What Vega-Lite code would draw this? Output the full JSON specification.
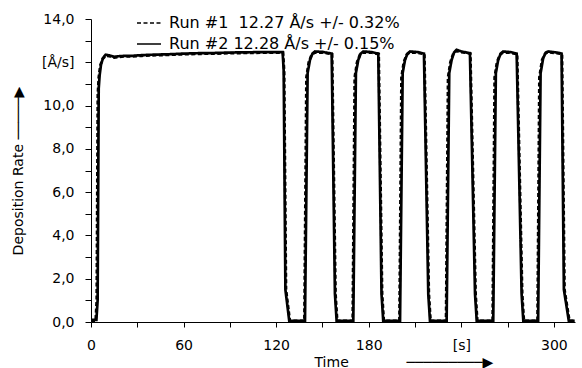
{
  "$schema": "https://vega.github.io/schema/vega-lite/v6.json",
  "width": 484,
  "height": 303,
  "autosize": "none",
  "padding": {"left": 91, "top": 19, "right": 7, "bottom": 46},
  "background": "white",
  "config": {
    "view": {"stroke": null},
    "font": "DejaVu Sans",
    "axis": {
      "grid": false,
      "domainColor": "black",
      "domainWidth": 1,
      "tickColor": "black",
      "tickWidth": 1,
      "labelColor": "black",
      "titleColor": "black",
      "labelFont": "DejaVu Sans",
      "titleFont": "DejaVu Sans",
      "labelFontSize": 14,
      "titleFontSize": 14,
      "titleFontWeight": "normal",
      "labelOverlap": false
    }
  },
  "data": {
    "values": [
      {"s": "Run #1", "t": 0, "v": 0.05},
      {"s": "Run #1", "t": 3.0, "v": 0.05},
      {"s": "Run #1", "t": 3.7, "v": 1.0},
      {"s": "Run #1", "t": 4.4, "v": 10.5},
      {"s": "Run #1", "t": 5.0, "v": 11.3},
      {"s": "Run #1", "t": 6.0, "v": 11.85},
      {"s": "Run #1", "t": 7.5, "v": 12.15},
      {"s": "Run #1", "t": 9.5, "v": 12.3},
      {"s": "Run #1", "t": 12, "v": 12.28},
      {"s": "Run #1", "t": 15, "v": 12.22},
      {"s": "Run #1", "t": 18, "v": 12.25},
      {"s": "Run #1", "t": 22, "v": 12.27},
      {"s": "Run #1", "t": 27, "v": 12.27},
      {"s": "Run #1", "t": 33, "v": 12.3},
      {"s": "Run #1", "t": 40, "v": 12.32},
      {"s": "Run #1", "t": 50, "v": 12.34},
      {"s": "Run #1", "t": 60, "v": 12.37},
      {"s": "Run #1", "t": 70, "v": 12.39},
      {"s": "Run #1", "t": 80, "v": 12.4},
      {"s": "Run #1", "t": 90, "v": 12.42},
      {"s": "Run #1", "t": 100, "v": 12.43},
      {"s": "Run #1", "t": 110, "v": 12.44},
      {"s": "Run #1", "t": 120, "v": 12.45},
      {"s": "Run #1", "t": 124.5, "v": 12.45},
      {"s": "Run #1", "t": 125.2, "v": 11.6},
      {"s": "Run #1", "t": 126.4, "v": 1.5},
      {"s": "Run #1", "t": 128.9, "v": 0.05},
      {"s": "Run #1", "t": 138.3, "v": 0.05},
      {"s": "Run #1", "t": 139.6, "v": 11.3},
      {"s": "Run #1", "t": 141.1, "v": 12.0},
      {"s": "Run #1", "t": 143.0, "v": 12.35},
      {"s": "Run #1", "t": 145.0, "v": 12.45},
      {"s": "Run #1", "t": 150, "v": 12.45},
      {"s": "Run #1", "t": 156.3, "v": 12.38},
      {"s": "Run #1", "t": 158.5, "v": 1.3},
      {"s": "Run #1", "t": 159.6, "v": 0.05},
      {"s": "Run #1", "t": 169.6, "v": 0.05},
      {"s": "Run #1", "t": 170.9, "v": 11.3},
      {"s": "Run #1", "t": 172.4, "v": 12.0},
      {"s": "Run #1", "t": 174.3, "v": 12.35},
      {"s": "Run #1", "t": 176.3, "v": 12.45},
      {"s": "Run #1", "t": 182, "v": 12.44},
      {"s": "Run #1", "t": 186.5, "v": 12.38},
      {"s": "Run #1", "t": 188.7, "v": 1.3},
      {"s": "Run #1", "t": 189.8, "v": 0.05},
      {"s": "Run #1", "t": 199.9, "v": 0.05},
      {"s": "Run #1", "t": 201.2, "v": 11.3},
      {"s": "Run #1", "t": 202.7, "v": 12.0},
      {"s": "Run #1", "t": 204.6, "v": 12.35},
      {"s": "Run #1", "t": 206.6, "v": 12.45},
      {"s": "Run #1", "t": 212, "v": 12.44},
      {"s": "Run #1", "t": 216.1, "v": 12.38},
      {"s": "Run #1", "t": 219.0, "v": 1.3},
      {"s": "Run #1", "t": 220.1, "v": 0.05},
      {"s": "Run #1", "t": 230.1, "v": 0.05},
      {"s": "Run #1", "t": 231.4, "v": 11.3},
      {"s": "Run #1", "t": 232.9, "v": 12.0},
      {"s": "Run #1", "t": 234.8, "v": 12.4},
      {"s": "Run #1", "t": 236.8, "v": 12.52},
      {"s": "Run #1", "t": 240, "v": 12.47},
      {"s": "Run #1", "t": 245.9, "v": 12.4},
      {"s": "Run #1", "t": 249.3, "v": 1.3},
      {"s": "Run #1", "t": 250.4, "v": 0.05},
      {"s": "Run #1", "t": 260.3, "v": 0.05},
      {"s": "Run #1", "t": 261.6, "v": 11.3},
      {"s": "Run #1", "t": 263.1, "v": 12.0},
      {"s": "Run #1", "t": 265.0, "v": 12.35},
      {"s": "Run #1", "t": 267.0, "v": 12.45},
      {"s": "Run #1", "t": 272, "v": 12.44},
      {"s": "Run #1", "t": 276.2, "v": 12.38},
      {"s": "Run #1", "t": 279.5, "v": 1.3},
      {"s": "Run #1", "t": 280.6, "v": 0.05},
      {"s": "Run #1", "t": 289.4, "v": 0.05},
      {"s": "Run #1", "t": 290.6, "v": 11.3},
      {"s": "Run #1", "t": 292.3, "v": 12.1},
      {"s": "Run #1", "t": 294.3, "v": 12.4},
      {"s": "Run #1", "t": 296.2, "v": 12.47},
      {"s": "Run #1", "t": 302, "v": 12.42},
      {"s": "Run #1", "t": 305.3, "v": 12.38},
      {"s": "Run #1", "t": 306.9, "v": 1.5},
      {"s": "Run #1", "t": 310.1, "v": 0.05},
      {"s": "Run #1", "t": 313.5, "v": 0.05},
      {"s": "Run #2", "t": 0, "v": 0.1},
      {"s": "Run #2", "t": 3.5, "v": 0.1},
      {"s": "Run #2", "t": 4.3, "v": 1.0},
      {"s": "Run #2", "t": 5.0, "v": 10.8},
      {"s": "Run #2", "t": 5.6, "v": 11.4},
      {"s": "Run #2", "t": 6.5, "v": 11.9},
      {"s": "Run #2", "t": 7.8, "v": 12.2},
      {"s": "Run #2", "t": 9.5, "v": 12.35},
      {"s": "Run #2", "t": 12, "v": 12.32},
      {"s": "Run #2", "t": 15, "v": 12.25},
      {"s": "Run #2", "t": 18, "v": 12.28},
      {"s": "Run #2", "t": 22, "v": 12.3},
      {"s": "Run #2", "t": 27, "v": 12.3},
      {"s": "Run #2", "t": 33, "v": 12.33},
      {"s": "Run #2", "t": 40, "v": 12.35},
      {"s": "Run #2", "t": 50, "v": 12.37},
      {"s": "Run #2", "t": 60, "v": 12.4},
      {"s": "Run #2", "t": 70, "v": 12.42},
      {"s": "Run #2", "t": 80, "v": 12.43},
      {"s": "Run #2", "t": 90, "v": 12.45},
      {"s": "Run #2", "t": 100, "v": 12.46},
      {"s": "Run #2", "t": 110, "v": 12.47},
      {"s": "Run #2", "t": 120, "v": 12.47},
      {"s": "Run #2", "t": 124.2, "v": 12.47},
      {"s": "Run #2", "t": 124.9, "v": 11.6},
      {"s": "Run #2", "t": 126.0, "v": 1.5},
      {"s": "Run #2", "t": 128.5, "v": 0.05},
      {"s": "Run #2", "t": 138.7, "v": 0.05},
      {"s": "Run #2", "t": 140.4, "v": 11.5},
      {"s": "Run #2", "t": 141.9, "v": 12.1},
      {"s": "Run #2", "t": 143.5, "v": 12.4},
      {"s": "Run #2", "t": 145.2, "v": 12.5},
      {"s": "Run #2", "t": 150, "v": 12.48},
      {"s": "Run #2", "t": 156.0, "v": 12.4},
      {"s": "Run #2", "t": 158.1, "v": 1.3},
      {"s": "Run #2", "t": 159.2, "v": 0.05},
      {"s": "Run #2", "t": 170.0, "v": 0.05},
      {"s": "Run #2", "t": 171.7, "v": 11.5},
      {"s": "Run #2", "t": 173.2, "v": 12.1},
      {"s": "Run #2", "t": 174.8, "v": 12.4},
      {"s": "Run #2", "t": 176.5, "v": 12.5},
      {"s": "Run #2", "t": 182, "v": 12.47},
      {"s": "Run #2", "t": 186.2, "v": 12.4},
      {"s": "Run #2", "t": 188.3, "v": 1.3},
      {"s": "Run #2", "t": 189.4, "v": 0.05},
      {"s": "Run #2", "t": 200.3, "v": 0.05},
      {"s": "Run #2", "t": 202.0, "v": 11.5},
      {"s": "Run #2", "t": 203.5, "v": 12.1},
      {"s": "Run #2", "t": 205.1, "v": 12.4},
      {"s": "Run #2", "t": 206.8, "v": 12.5},
      {"s": "Run #2", "t": 212, "v": 12.47},
      {"s": "Run #2", "t": 215.8, "v": 12.4},
      {"s": "Run #2", "t": 218.6, "v": 1.3},
      {"s": "Run #2", "t": 219.7, "v": 0.05},
      {"s": "Run #2", "t": 230.5, "v": 0.05},
      {"s": "Run #2", "t": 232.2, "v": 11.5},
      {"s": "Run #2", "t": 233.7, "v": 12.1},
      {"s": "Run #2", "t": 235.3, "v": 12.45},
      {"s": "Run #2", "t": 237.0, "v": 12.58},
      {"s": "Run #2", "t": 240, "v": 12.5},
      {"s": "Run #2", "t": 245.6, "v": 12.42},
      {"s": "Run #2", "t": 248.9, "v": 1.3},
      {"s": "Run #2", "t": 250.0, "v": 0.05},
      {"s": "Run #2", "t": 260.7, "v": 0.05},
      {"s": "Run #2", "t": 262.4, "v": 11.5},
      {"s": "Run #2", "t": 263.9, "v": 12.1},
      {"s": "Run #2", "t": 265.5, "v": 12.4},
      {"s": "Run #2", "t": 267.2, "v": 12.5},
      {"s": "Run #2", "t": 272, "v": 12.47},
      {"s": "Run #2", "t": 275.9, "v": 12.4},
      {"s": "Run #2", "t": 279.1, "v": 1.3},
      {"s": "Run #2", "t": 280.2, "v": 0.05},
      {"s": "Run #2", "t": 289.8, "v": 0.05},
      {"s": "Run #2", "t": 291.4, "v": 11.5},
      {"s": "Run #2", "t": 293.1, "v": 12.2},
      {"s": "Run #2", "t": 294.8, "v": 12.45},
      {"s": "Run #2", "t": 296.4, "v": 12.5},
      {"s": "Run #2", "t": 302, "v": 12.45},
      {"s": "Run #2", "t": 305.0, "v": 12.4},
      {"s": "Run #2", "t": 306.5, "v": 1.5},
      {"s": "Run #2", "t": 309.7, "v": 0.05},
      {"s": "Run #2", "t": 313.5, "v": 0.05}
    ]
  },
  "mark": {"type": "line", "color": "black", "strokeWidth": 2.7},
  "encoding": {
    "x": {
      "field": "t",
      "type": "quantitative",
      "scale": {"domain": [0, 313.7], "nice": false, "zero": false},
      "axis": {
        "values": [0, 30, 60, 90, 120, 150, 180, 210, 240, 270, 300],
        "labelExpr": "datum.value % 60 != 0 ? '' : (datum.value == 240 ? '[s]' : datum.label)",
        "tickSize": 5,
        "labelPadding": 11,
        "labelFlush": false,
        "title": "Time\u00a0\u00a0\u00a0\u00a0\u00a0\u00a0\u00a0\u00a0\u00a0\u00a0\u00a0\u00a0\u00a0─────────▶",
        "titleFont": "DejaVu Sans",
        "titleFontSize": 14,
        "titleAnchor": "start",
        "titleAlign": "left",
        "titleX": 223,
        "titleY": 40,
        "titleBaseline": "middle"
      }
    },
    "y": {
      "field": "v",
      "type": "quantitative",
      "scale": {"domain": [0, 14], "nice": false},
      "axis": {
        "values": [0, 1, 2, 3, 4, 5, 6, 7, 8, 9, 10, 11, 12, 13, 14],
        "labelExpr": "datum.value % 2 != 0 ? '' : (datum.value == 12 ? '[Å/s]' : replace(format(datum.value, '.1f'), '.', ','))",
        "tickSize": 6,
        "labelPadding": 11,
        "labelFlush": false,
        "title": "Deposition Rate\u00a0─────▶",
        "titleFont": "DejaVu Sans",
        "titleFontSize": 14,
        "titlePadding": 16
      }
    },
    "strokeDash": {
      "field": "s",
      "type": "nominal",
      "scale": {"domain": ["Run #1", "Run #2"], "range": [[4, 2.5], [1, 0]]},
      "legend": {
        "orient": "none",
        "legendX": 45,
        "legendY": -9,
        "title": null,
        "padding": 0,
        "symbolType": "stroke",
        "symbolSize": 576,
        "symbolStrokeWidth": 1.5,
        "symbolStrokeColor": "black",
        "labelFont": "DejaVu Sans",
        "labelFontSize": 16,
        "labelColor": "black",
        "labelLimit": 400,
        "labelOffset": 7,
        "rowPadding": -5,
        "labelExpr": "datum.label == 'Run #1' ? 'Run #1\u00a0 12.27 Å/s +/- 0.32%' : 'Run #2 12.28 Å/s +/- 0.15%'"
      }
    }
  }
}
